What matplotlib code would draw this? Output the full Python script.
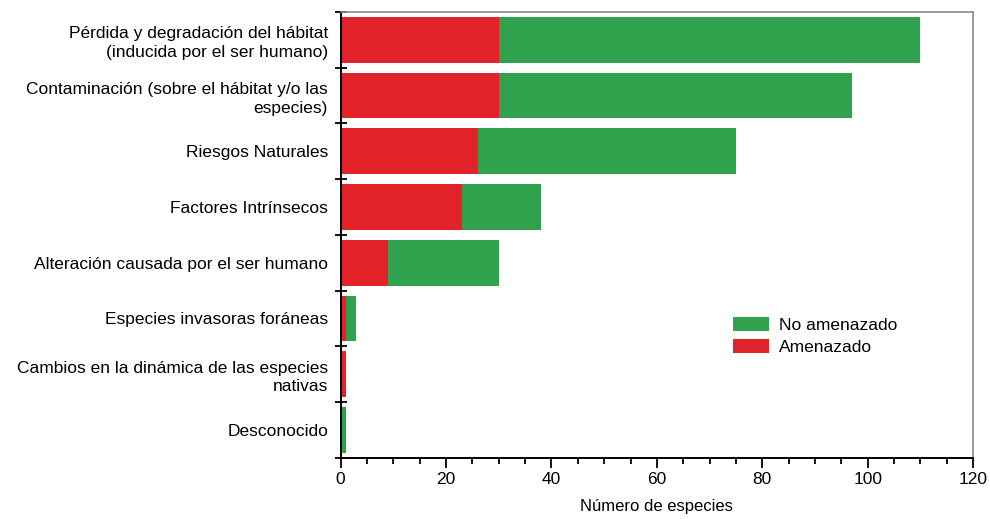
import numpy as np
import matplotlib.pyplot as plt
from matplotlib.ticker import MultipleLocator, FixedLocator

# Data (top to bottom)
categories = [
    'Pérdida y degradación del hábitat\n(inducida por el ser humano)',
    'Contaminación (sobre el hábitat y/o las\nespecies)',
    'Riesgos Naturales',
    'Factores Intrínsecos',
    'Alteración causada por el ser humano',
    'Especies invasoras foráneas',
    'Cambios en la dinámica de las especies\nnativas',
    'Desconocido',
]
amenazado = [30, 30, 26, 23, 9, 1, 1, 0]
no_amenazado = [80, 67, 49, 15, 21, 2, 0, 1]

red = '#e3232a'
green = '#2ea24c'

plt.rcParams['font.family'] = ['Liberation Sans', 'DejaVu Sans']

fig = plt.figure(figsize=(9.9, 5.19), dpi=100)
ax = fig.add_axes([0.344, 0.118, 0.639, 0.859])

n = len(categories)
y = np.arange(n)[::-1]
ax.barh(y, amenazado, height=0.82, color=red, label='Amenazado')
ax.barh(y, no_amenazado, left=amenazado, height=0.82, color=green, label='No amenazado')

ax.set_xlim(0, 120)
ax.set_ylim(-0.5, n - 0.5)
ax.xaxis.set_major_locator(MultipleLocator(20))
ax.xaxis.set_minor_locator(MultipleLocator(5))
ax.tick_params(axis='x', which='major', direction='out', length=7, width=1.3, labelsize=12.5, pad=3)
ax.tick_params(axis='x', which='minor', direction='out', length=4, width=1.3)

ax.set_yticks(y)
ax.set_yticklabels(categories, fontsize=12.5, linespacing=1.3)
ax.yaxis.set_minor_locator(FixedLocator(np.arange(-0.5, n, 1.0)))
ax.tick_params(axis='y', which='major', length=0, pad=9)
ax.tick_params(axis='y', which='minor', direction='inout', length=8, width=1.3)

for s in ['left', 'bottom']:
    ax.spines[s].set_linewidth(1.4)
    ax.spines[s].set_color('black')
for s in ['top', 'right']:
    ax.spines[s].set_linewidth(1.2)
    ax.spines[s].set_color('#8a8a8a')

ax.set_xlabel('Número de especies', fontsize=12, labelpad=9)

handles, labels = ax.get_legend_handles_labels()
ax.legend(handles[::-1], labels[::-1], loc='upper left', bbox_to_anchor=(0.595, 0.35),
          frameon=False, fontsize=12.5, handlelength=2.1, handleheight=0.85,
          handletextpad=0.6, labelspacing=0.35)

fig.savefig('out.png', dpi=100)
